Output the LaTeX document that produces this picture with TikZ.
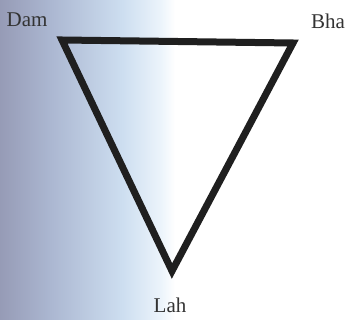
\documentclass[tikz,border=0pt]{standalone}
\usepackage{fontspec}
\setmainfont{Liberation Serif}
\definecolor{bgA}{RGB}{150,155,182}
\definecolor{bgB}{RGB}{172,184,210}
\definecolor{bgC}{RGB}{205,222,240}
\definecolor{bgD}{RGB}{236,244,251}
\pgfdeclarehorizontalshading{scanbg}{100bp}{color(0bp)=(bgA); color(25bp)=(bgA); color(40bp)=(bgB); color(60bp)=(bgC); color(71bp)=(bgD); color(75bp)=(white); color(100bp)=(white)}
\tikzset{
  lbl/.style={font=\fontsize{21}{21}\selectfont, text=black!80, inner sep=0pt},
  tri/.style={line width=7pt, line join=miter, draw=black!88}
}
\begin{document}
\begin{tikzpicture}[x=1pt,y=-1pt]
\useasboundingbox (0,0) rectangle (349,320);
\fill[white] (0,0) rectangle (349,320);
\shade[shading=scanbg] (0,0) rectangle (175,320);
\coordinate (D) at (62,40);
\coordinate (B) at (293,43);
\coordinate (L) at (172,271);
\draw[tri] (D) -- (B) -- (L) -- cycle;
\node[lbl] (dam) at (27,20) {Dam};
\node[lbl] (bha) at (328,21) {Bha};
\node[lbl] (lah) at (170,305) {Lah};
\end{tikzpicture}
\end{document}
